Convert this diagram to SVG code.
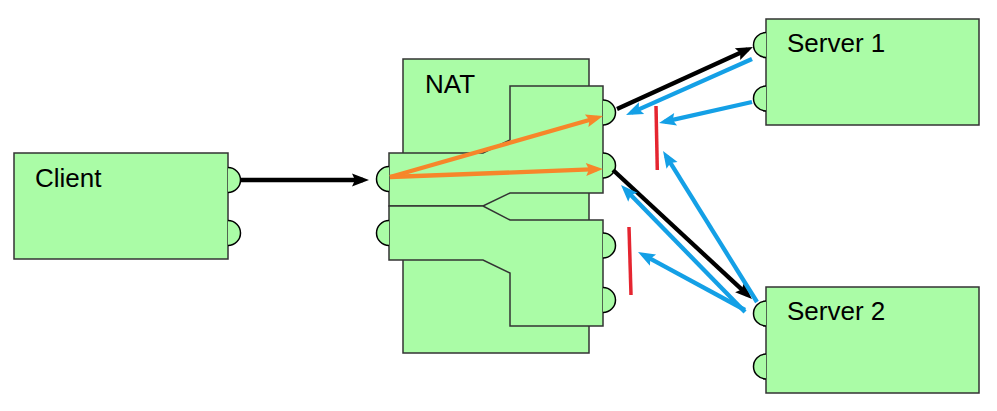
<svg xmlns="http://www.w3.org/2000/svg" width="997" height="411" viewBox="0 0 997 411">
<style>
.box{fill:#AAFCA6;stroke:#333;stroke-width:1.5}
.port{fill:#AAFCA6;stroke:#000;stroke-width:1.5}
.lbl{font-family:"Liberation Sans",Arial,sans-serif;font-size:26px;fill:#000}
.blk{stroke:#000;stroke-width:4.3;fill:none}
.blu{stroke:#14A0E6;stroke-width:4.3;fill:none}
.org{stroke:#F7862A;stroke-width:4.3;fill:none}
.red{stroke:#E52530;stroke-width:3.5;fill:none}
</style>
<defs>
<marker id="hk" markerUnits="userSpaceOnUse" markerWidth="17" markerHeight="13" refX="11" refY="6.5" orient="auto" overflow="visible"><path d="M0,0 L17,6.5 L0,13 L3,6.5 z" fill="#000"/></marker>
<marker id="hb" markerUnits="userSpaceOnUse" markerWidth="17" markerHeight="13" refX="11" refY="6.5" orient="auto" overflow="visible"><path d="M0,0 L17,6.5 L0,13 L3,6.5 z" fill="#14A0E6"/></marker>
<marker id="ho" markerUnits="userSpaceOnUse" markerWidth="17" markerHeight="13" refX="11" refY="6.5" orient="auto" overflow="visible"><path d="M0,0 L17,6.5 L0,13 L3,6.5 z" fill="#F7862A"/></marker>
</defs>
<rect width="997" height="411" fill="#fff"/>
<g id="client">
<rect class="box" x="14" y="153" width="214" height="106"/>
<path class="port" d="M228,167.5 A12.5,12.5 0 0 1 228,192.5"/>
<path class="port" d="M228,220.5 A12.5,12.5 0 0 1 228,245.5"/>
<text class="lbl" x="35" y="187">Client</text>
</g>
<g id="nat">
<rect class="box" x="403" y="59" width="186" height="294"/>
<polygon class="box" points="510,86 603,86 603,193 510,193 483,206 389,206 389,153 483,153 510,140"/>
<polygon class="box" points="389,206 483,206 510,220 603,220 603,326 510,326 510,273 483,260 389,260"/>
<path class="port" d="M389,166.5 A12.5,12.5 0 0 0 389,191.5"/>
<path class="port" d="M389,220.5 A12.5,12.5 0 0 0 389,245.5"/>
<path class="port" d="M603,100 A12.5,12.5 0 0 1 603,125"/>
<path class="port" d="M603,153 A12.5,12.5 0 0 1 603,178"/>
<path class="port" d="M603,233 A12.5,12.5 0 0 1 603,258"/>
<path class="port" d="M603,287.5 A12.5,12.5 0 0 1 603,312.5"/>
<text class="lbl" x="425" y="93">NAT</text>
</g>
<g id="server1">
<rect class="box" x="766" y="19" width="213" height="106"/>
<path class="port" d="M766,32.5 A12.5,12.5 0 0 0 766,57.5"/>
<path class="port" d="M766,86 A12.5,12.5 0 0 0 766,111"/>
<text class="lbl" x="787" y="52">Server 1</text>
</g>
<g id="server2">
<rect class="box" x="766" y="287" width="213" height="106"/>
<path class="port" d="M766,301 A12.5,12.5 0 0 0 766,326"/>
<path class="port" d="M766,354 A12.5,12.5 0 0 0 766,379"/>
<text class="lbl" x="787" y="320">Server 2</text>
</g>
<g id="connectors">
<line class="blk" x1="240" y1="180" x2="363" y2="180" marker-end="url(#hk)"/>
<line class="org" x1="390" y1="177" x2="597.2" y2="117.7" marker-end="url(#ho)"/>
<line class="org" x1="390" y1="177" x2="597" y2="169.2" marker-end="url(#ho)"/>
<line class="blk" x1="617" y1="109" x2="747.5" y2="49.5" marker-end="url(#hk)"/>
<line class="blk" x1="613" y1="170" x2="747.6" y2="294.9" marker-end="url(#hk)"/>
<line class="blu" x1="752" y1="59" x2="631.5" y2="112.6" marker-end="url(#hb)"/>
<line class="blu" x1="752" y1="102" x2="664.9" y2="121.7" marker-end="url(#hb)"/>
<line class="blu" x1="757" y1="302" x2="666.2" y2="156.1" marker-end="url(#hb)"/>
<line class="blu" x1="745" y1="312" x2="625.2" y2="189.3" marker-end="url(#hb)"/>
<line class="blu" x1="745" y1="310" x2="643.3" y2="254.9" marker-end="url(#hb)"/>
<line class="red" x1="656" y1="106" x2="657.3" y2="170"/>
<line class="red" x1="629" y1="227" x2="631" y2="295"/>
</g>
</svg>
